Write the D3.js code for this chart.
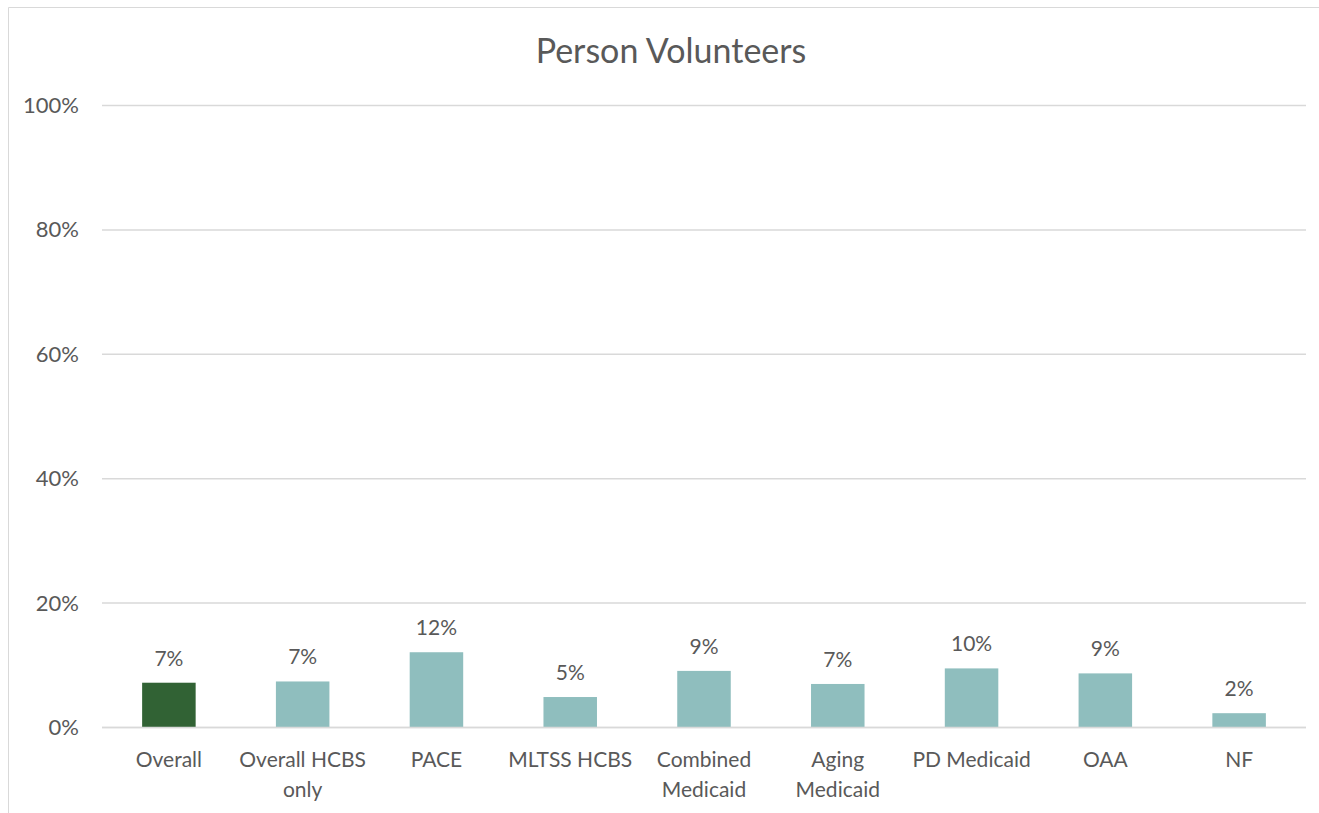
<!DOCTYPE html>
<html><head><meta charset="utf-8">
<script src="https://cdn.jsdelivr.net/npm/d3@7"></script>
<style>body{margin:0;background:#fff}svg{display:block}text{font-family:Lato,"Open Sans",sans-serif;fill:#595959}</style>
</head><body><svg id="c" width="1319" height="813"></svg>
<script>
const categories = ["Overall", "Overall HCBS only", "PACE", "MLTSS HCBS", "Combined Medicaid", "Aging Medicaid", "PD Medicaid", "OAA", "NF"];
const categoryLines = [["Overall"], ["Overall HCBS", "only"], ["PACE"], ["MLTSS HCBS"], ["Combined", "Medicaid"], ["Aging", "Medicaid"], ["PD Medicaid"], ["OAA"], ["NF"]];
const values = [7.2, 7.4, 12.1, 4.9, 9.1, 7.0, 9.5, 8.7, 2.3];
const yTicks = [0, 20, 40, 60, 80, 100];
const title = "Person Volunteers";

const svg = d3.select("#c");
// chart border (top and left only visible)
svg.append("path").attr("d", "M8.5,813V7.5H1319")
  .attr("fill", "none").attr("stroke", "#d9d9d9").attr("stroke-width", 1);

const x = d3.scaleBand().domain(categories).range([102, 1306]).padding(0);
const y = d3.scaleLinear().domain([0, 100]).range([727.5, 105.5]);

svg.append("text").attr("x", 671).attr("y", 63).attr("text-anchor", "middle")
  .style("font-size", "34px").text(title);

// gridlines
svg.append("g").selectAll("line").data(yTicks).join("line")
  .attr("x1", 102).attr("x2", 1306)
  .attr("y1", d => y(d)).attr("y2", d => y(d))
  .attr("stroke", "#d9d9d9").attr("stroke-width", 1.5);

// y axis labels
const yAxis = d3.axisLeft(y).tickValues(yTicks).tickFormat(d => d + "%").tickSize(0).tickPadding(0);
const ga = svg.append("g").attr("transform", "translate(79,0)").call(yAxis);
ga.select(".domain").remove();
ga.selectAll("text").style("font-size", "22px").attr("fill", "#595959").attr("font-family", null);

const bw = x.bandwidth() * 0.4;
svg.append("g").selectAll("rect").data(values).join("rect")
  .attr("x", (d, i) => x(categories[i]) + (x.bandwidth() - bw) / 2)
  .attr("width", bw)
  .attr("y", d => y(d))
  .attr("height", d => y(0) - y(d))
  .attr("fill", (d, i) => i === 0 ? "#316234" : "#8fbebe");

// axis baseline
svg.append("line").attr("x1", 102).attr("x2", 1306).attr("y1", y(0)).attr("y2", y(0))
  .attr("stroke", "#d9d9d9").attr("stroke-width", 1.5);

// value labels
svg.append("g").selectAll("text").data(values).join("text")
  .attr("x", (d, i) => x(categories[i]) + x.bandwidth() / 2)
  .attr("y", d => y(d) - 17)
  .attr("text-anchor", "middle").style("font-size", "21px")
  .text(d => Math.round(d) + "%");

// category labels
const cl = svg.append("g").selectAll("text").data(categoryLines).join("text")
  .attr("x", (d, i) => x(categories[i]) + x.bandwidth() / 2)
  .attr("y", 767)
  .attr("text-anchor", "middle").style("font-size", "21px");
cl.selectAll("tspan").data(d => d).join("tspan")
  .attr("x", function() { return d3.select(this.parentNode).attr("x"); })
  .attr("dy", (d, i) => i === 0 ? 0 : 30)
  .text(d => d);
</script></body></html>
